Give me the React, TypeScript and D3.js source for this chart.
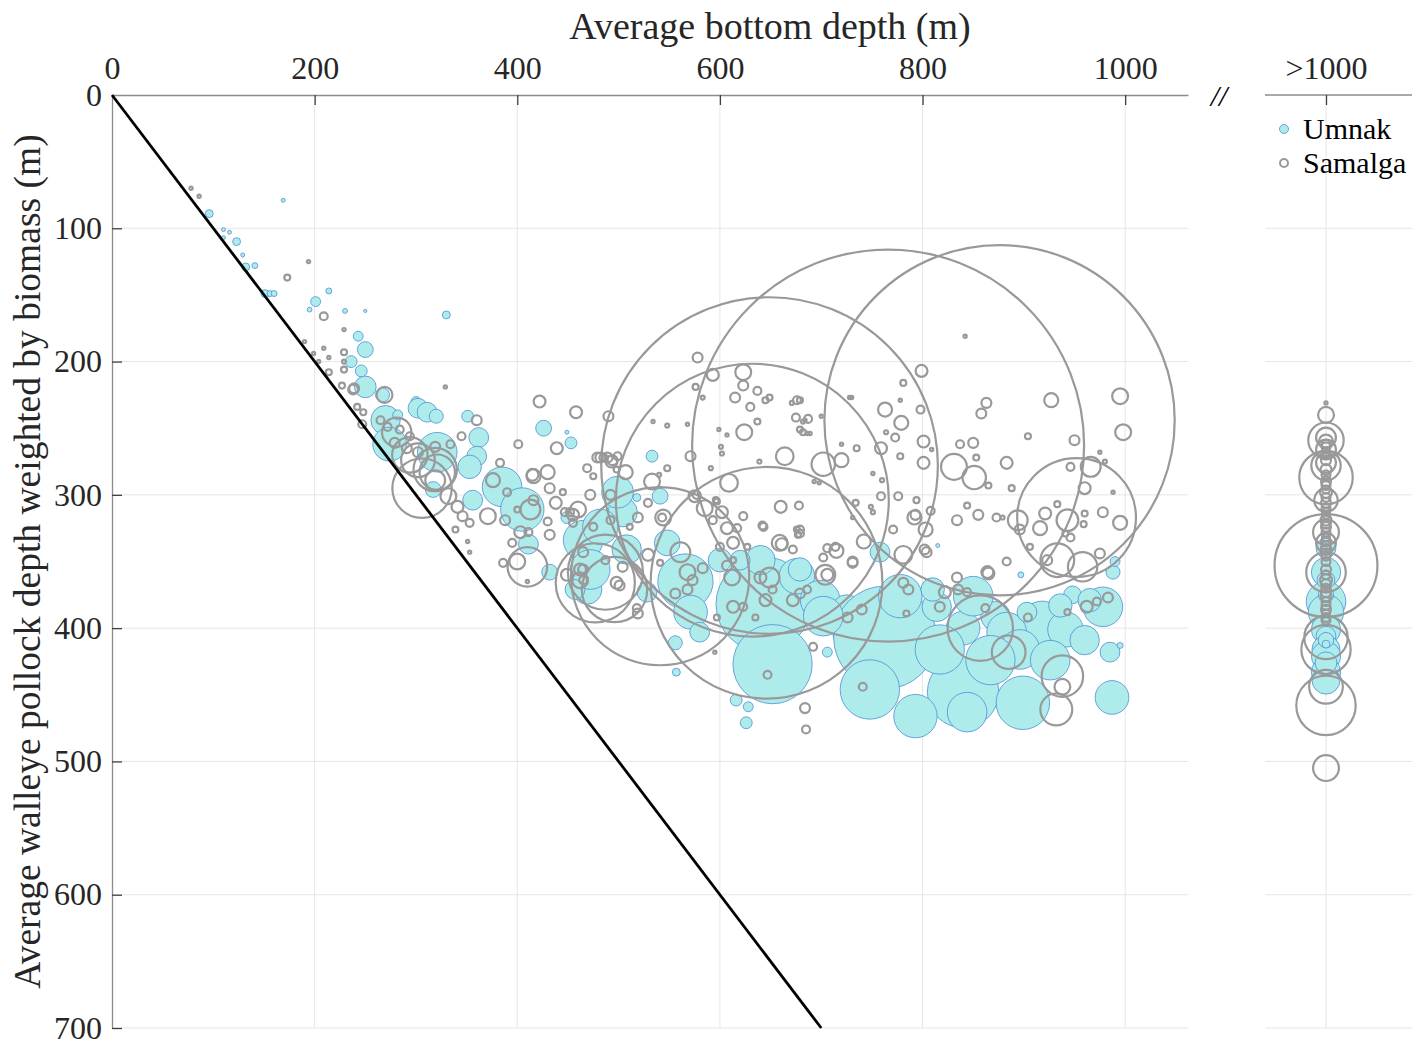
import React, { useEffect, useRef } from "react";
import * as d3 from "d3";

// [average bottom depth (m), pollock depth weighted by biomass (m), biomass index]
const umnak: [number, number, number][] = [
  [96, 89, 1.6], [110, 101, 0.4], [116, 103, 0.4], [123, 110, 1.6], [110, 107, 0.4], [129, 120, 0.4],
  [132, 129, 1.6], [141, 128, 0.9], [169, 79, 0.4], [151, 149, 1.6], [156, 149, 0.9], [160, 149, 0.9],
  [201, 155, 2.5], [195, 161, 0.6], [214, 147, 0.9], [230, 162, 0.6], [250, 162, 0.2], [330, 165, 1.6],
  [243, 181, 2.5], [250, 191, 6.4], [236, 200, 3.6], [246, 207, 3.6], [250, 219, 12], [267, 225, 5],
  [300, 230, 2.5], [270, 244, 22], [302, 235, 10], [311, 238, 10], [320, 241, 5], [282, 240, 2.5],
  [351, 241, 3.6], [426, 250, 6.4], [449, 253, 0.4], [453, 261, 3.6], [362, 257, 10], [274, 262, 29],
  [321, 268, 40], [360, 271, 10], [353, 279, 14], [385, 294, 40], [405, 311, 48], [356, 304, 10],
  [411, 337, 10], [317, 296, 6.4], [432, 358, 6.4], [449, 317, 3.6], [465, 334, 40], [469, 371, 22],
  [504, 313, 22], [533, 271, 3.6], [541, 301, 6.4], [518, 302, 1.6], [499, 298, 26], [556, 411, 5],
  [557, 433, 1.6], [616, 454, 3.6], [628, 459, 2.5], [626, 471, 3.6], [566, 365, 78], [571, 388, 29],
  [548, 336, 17], [643, 382, 230], [652, 427, 160], [676, 361, 32], [706, 418, 2.5], [699, 379, 40],
  [725, 386, 22], [731, 403, 40], [472, 356, 40], [457, 371, 10], [508, 341, 22], [482, 324, 32],
  [528, 373, 10], [580, 403, 10], [640, 349, 22], [620, 349, 10], [600, 349, 14], [679, 356, 14],
  [763, 407, 270], [840, 448, 130], [793, 466, 48], [899, 456, 73], [778, 376, 48], [918, 396, 48],
  [941, 401, 32], [978, 384, 40], [985, 418, 10], [987, 452, 29], [948, 375, 8], [988, 358, 5],
  [840, 400, 29], [872, 391, 22], [883, 403, 40], [896, 416, 40], [702, 391, 40], [844, 463, 40],
  [814, 384, 22], [810, 371, 14], [850, 376, 40], [903, 388, 10], [758, 343, 10], [815, 338, 0.4],
  [897, 360, 0.9], [990, 350, 2.5], [748, 446, 90], [926, 424, 40], [960, 409, 22], [995, 413, 0.9],
  [817, 416, 62], [867, 424, 62], [965, 379, 14], [936, 383, 14],
];

const samalga: [number, number, number][] = [
  [649, 278, 2890], [766, 263, 3920], [876, 244, 3130], [632, 304, 1900], [646, 366, 1370], [952, 317, 360],
  [541, 361, 810], [306, 295, 90], [487, 358, 144], [496, 371, 109], [477, 366, 160], [294, 270, 32],
  [319, 281, 48], [410, 354, 40], [857, 400, 109], [885, 418, 29], [938, 436, 44], [938, 444, 6.4],
  [932, 461, 26], [933, 349, 29], [958, 354, 22], [831, 279, 17], [851, 287, 14], [702, 277, 14],
  [664, 271, 8], [609, 291, 8], [624, 253, 6.4], [623, 208, 6.4], [966, 279, 10], [943, 319, 12],
  [894, 319, 10], [998, 253, 6.4], [995, 226, 6.4], [927, 229, 5], [799, 207, 3.6], [269, 225, 6.4],
  [281, 253, 22], [302, 274, 29], [321, 283, 32], [371, 316, 6.4], [413, 311, 10], [400, 350, 6.4],
  [533, 290, 6.4], [585, 310, 6.4], [561, 343, 10], [568, 358, 6.4], [649, 362, 10], [704, 360, 10],
  [659, 336, 6.4], [612, 362, 6.4], [720, 274, 5], [781, 345, 8],
  [173, 137, 0.9], [209, 166, 1.6], [229, 193, 0.9], [229, 200, 0.4], [229, 206, 0.9], [214, 208, 0.9],
  [227, 218, 0.9], [239, 220, 2.5], [238, 221, 2.5], [242, 234, 0.9], [248, 238, 0.9], [247, 247, 1.6],
  [265, 244, 1.6], [272, 249, 1.6], [284, 251, 1.6], [294, 256, 1.6], [279, 261, 2.5], [291, 265, 2.5],
  [302, 268, 2.5], [319, 264, 2.5], [334, 262, 1.6], [345, 256, 1.6], [360, 244, 2.5], [319, 289, 10],
  [332, 301, 6.4], [341, 309, 3.6], [346, 316, 2.5], [353, 321, 1.6], [339, 326, 0.9], [383, 276, 1.6],
  [376, 289, 5], [390, 298, 1.6], [388, 319, 2.5], [400, 311, 0.9], [416, 304, 2.5], [416, 286, 5],
  [430, 283, 5], [432, 295, 2.5], [445, 298, 0.9], [447, 313, 1.6], [460, 311, 6.4], [430, 320, 1.6],
  [432, 330, 2.5], [403, 328, 3.6], [411, 328, 1.6], [395, 336, 1.6], [386, 351, 1.6], [422, 230, 3.6],
  [458, 238, 3.6], [490, 241, 2.5], [401, 262, 1.6], [439, 265, 3.6], [415, 285, 3.6], [469, 280, 1.6],
  [475, 286, 0.9], [485, 272, 1.6], [494, 274, 2.5], [498, 281, 0.9], [472, 300, 2.5], [492, 300, 2.5],
  [452, 313, 1.6], [455, 321, 1.6], [465, 343, 2.5], [462, 356, 3.6], [498, 366, 3.6], [465, 364, 1.6],
  [329, 219, 0.2], [351, 335, 0.2], [353, 343, 0.2], [410, 365, 0.2], [78, 70, 0.2], [86, 76, 0.2],
  [190, 185, 0.2], [199, 194, 0.2], [214, 197, 0.2], [204, 200, 0.2], [229, 176, 0.2], [209, 190, 0.2],
  [194, 125, 0.1],
  [578, 197, 2.5], [593, 210, 3.6], [623, 218, 2.5], [637, 222, 1.6], [615, 227, 2.5], [630, 234, 1.6],
  [645, 229, 0.9], [649, 227, 0.9], [676, 229, 1.6], [671, 231, 0.4], [576, 219, 0.9], [583, 227, 0.4],
  [534, 245, 0.2], [548, 248, 0.4], [568, 247, 0.2], [599, 251, 0.2], [607, 255, 0.2], [637, 245, 0.9],
  [675, 242, 1.6], [682, 245, 0.4], [686, 254, 0.2], [689, 254, 0.2], [720, 262, 0.2], [601, 264, 0.4],
  [602, 269, 0.4], [571, 271, 2.5], [591, 280, 0.4], [639, 275, 0.4], [482, 272, 2.5], [493, 275, 3.6],
  [499, 271, 1.6], [507, 283, 5], [540, 285, 0.4], [548, 280, 0.9], [438, 306, 3.6], [529, 306, 1.6],
  [577, 300, 1.6], [597, 305, 0.9], [602, 313, 3.6], [593, 319, 1.6], [623, 316, 1.6], [643, 324, 1.6],
  [660, 309, 3.6], [678, 308, 1.6], [676, 326, 0.9], [677, 330, 0.9], [661, 337, 3.6], [706, 340, 1.6],
  [714, 339, 1.6], [544, 317, 6.4], [479, 272, 2.5], [489, 272, 2.5], [543, 317, 1.6], [596, 304, 0.9],
  [575, 301, 3.6],
  [842, 181, 0.2], [863, 231, 2.5], [858, 239, 2.5], [904, 256, 0.9], [950, 259, 2.5], [883, 276, 3.6],
  [960, 295, 3.6], [946, 279, 1.6], [975, 268, 0.2], [980, 275, 0.4], [988, 298, 0.2], [888, 295, 0.9],
  [794, 304, 0.9], [801, 276, 3.6], [801, 260, 3.6], [798, 236, 1.6], [779, 246, 5], [763, 236, 5],
  [781, 216, 0.9], [778, 229, 0.2], [773, 257, 1.6], [764, 253, 0.4], [778, 271, 0.9], [759, 265, 3.6],
  [735, 265, 0.9], [751, 284, 0.2], [760, 289, 0.4], [693, 290, 0.2], [698, 291, 0.2], [776, 301, 1.6],
  [759, 301, 1.6], [734, 306, 0.9], [749, 309, 0.4], [751, 313, 0.4], [793, 315, 2.5], [808, 312, 1.6],
  [687, 243, 1.6], [700, 241, 0.2], [730, 227, 0.2], [682, 253, 0.9], [792, 317, 5], [803, 326, 5],
  [771, 326, 1.6], [731, 317, 0.2], [679, 326, 1.6], [837, 262, 1.6], [850, 261, 2.5], [853, 272, 0.9],
  [865, 293, 0.9], [978, 313, 2.5], [995, 321, 5], [844, 308, 0.9], [855, 315, 2.5], [834, 319, 2.5],
  [873, 317, 1.6], [879, 317, 0.4], [896, 326, 2.5], [916, 325, 5], [921, 314, 3.6], [933, 307, 0.9],
  [960, 314, 0.9], [959, 322, 0.9], [941, 329, 0.9], [946, 332, 1.6], [906, 339, 0.9], [923, 349, 2.5],
  [975, 344, 2.5], [883, 350, 1.6], [864, 358, 3.6], [802, 341, 2.5], [742, 335, 5], [715, 342, 5],
  [702, 347, 1.6], [731, 351, 2.5], [679, 229, 0.9], [679, 251, 0.9], [684, 244, 0.2], [728, 227, 0.2],
  [809, 266, 0.2],
  [865, 359, 3.6], [904, 392, 1.6], [943, 388, 0.9], [962, 384, 3.6], [972, 380, 1.6], [983, 377, 2.5],
  [741, 444, 1.6], [781, 366, 2.5], [786, 371, 2.5], [822, 373, 3.6], [835, 371, 2.5], [844, 373, 1.6],
  [834, 362, 2.5], [817, 384, 2.5], [862, 385, 1.6], [784, 389, 0.9], [726, 392, 2.5], [740, 386, 2.5],
  [706, 360, 3.6], [804, 343, 2.5],
  [573, 364, 2.5], [583, 355, 2.5], [556, 374, 2.5], [568, 371, 2.5], [501, 368, 2.5], [465, 356, 2.5],
  [462, 364, 6.4], [487, 349, 1.6], [504, 354, 2.5], [519, 389, 2.5], [597, 392, 0.9], [613, 384, 3.6],
  [623, 384, 1.6], [635, 392, 0.9], [645, 379, 3.6], [652, 371, 1.6], [640, 362, 3.6], [672, 379, 3.6],
  [679, 374, 2.5], [686, 371, 1.6], [731, 350, 2.5], [672, 341, 1.6], [679, 329, 1.6], [642, 323, 1.6],
  [692, 414, 1.6], [647, 435, 1.6], [684, 460, 2.5], [685, 476, 1.6], [595, 418, 0.2], [607, 353, 2.5],
  [613, 349, 0.9], [627, 339, 0.9], [613, 336, 3.6], [607, 325, 3.6], [617, 325, 1.6], [600, 339, 1.6],
  [541, 351, 0.9], [529, 345, 3.6], [511, 324, 0.9], [519, 317, 2.5], [492, 319, 1.6], [475, 324, 1.6],
  [455, 315, 3.6], [449, 360, 3.6], [518, 385, 1.6],
];

// pollock depth and biomass for stations deeper than 1000 m
const umnakDeep: [number, number][] = [
  [358, 22], [380, 40], [388, 32], [401, 22], [406, 10], [416, 20], [421, 22], [433, 22],
  [439, 20], [409, 6], [395, 1.6], [412, 1.6], [375, 6], [340, 10], [426, 12], [364, 8],
];

const samalgaDeep: [number, number][] = [
  [231, 0.2], [240, 6.4], [257, 10], [259, 32], [260, 5], [266, 10], [276, 10], [278, 22],
  [287, 73], [304, 14], [328, 17], [336, 10], [353, 270], [358, 40], [407, 48], [416, 62],
  [444, 29], [458, 90], [505, 17],
  [262, 2], [264, 2], [268, 1.6], [270, 1.6], [274, 2.5], [281, 3], [285, 2], [290, 2.5], [293, 2],
  [296, 1.6], [298, 3.6], [302, 2], [306, 2.5], [310, 2], [313, 1.6], [315, 1.6], [319, 3], [322, 2],
  [324, 2.5], [328, 2], [332, 1.6], [335, 2.5], [338, 2], [341, 3], [344, 2.5], [346, 2], [350, 2],
  [356, 2.5], [360, 2], [364, 3.6], [367, 2.5], [370, 2], [373, 2.5], [376, 3], [380, 2], [383, 2],
  [386, 2.5], [389, 1.6], [392, 2], [394, 2],
];

const xTicks = [0, 200, 400, 600, 800, 1000];
const yTicks = [0, 100, 200, 300, 400, 500, 600, 700];
const deepLabel = ">1000";
const seriesNames = ["Umnak", "Samalga"];

const FONT = "'Liberation Serif', 'Times New Roman', serif";

export default function App() {
  const svgRef = useRef<SVGSVGElement>(null);
  const width = 1412;
  const height = 1045;

  useEffect(() => {
    document.body.style.margin = "0";
    const svg = d3.select(svgRef.current);
    svg.selectAll("*").remove();

    const x = d3.scaleLinear().domain([0, 1062]).range([112, 1188]);
    const xDeep = d3.scalePoint<string>().domain([deepLabel]).range([1265, 1387]).padding(0.5);
    const y = d3.scaleLinear().domain([0, 700]).range([95, 1028]);
    const r = d3.scaleSqrt().domain([0, 4000]).range([0, 198]);
    const rad = (b: number) => Math.max(r(b), 1.6);

    // grid
    const grid = svg.append("g").attr("stroke", "#e6e6e6").attr("stroke-width", 1);
    xTicks.slice(1).forEach((t) => {
      grid.append("line").attr("x1", x(t)).attr("x2", x(t)).attr("y1", y(0)).attr("y2", y(700));
    });
    grid.append("line").attr("x1", xDeep(deepLabel)!).attr("x2", xDeep(deepLabel)!)
      .attr("y1", y(0)).attr("y2", y(700));
    yTicks.slice(1).forEach((t) => {
      grid.append("line").attr("x1", x(0)).attr("x2", x(1062)).attr("y1", y(t)).attr("y2", y(t));
      grid.append("line").attr("x1", 1265).attr("x2", width).attr("y1", y(t)).attr("y2", y(t));
    });

    // axes
    const xAxis = svg.append("g").attr("transform", `translate(0,${y(0)})`)
      .call(d3.axisTop(x).tickValues(xTicks).tickFormat(d3.format("d"))
        .tickSizeInner(-10).tickSizeOuter(0).tickPadding(16));
    const xAxisDeep = svg.append("g").attr("transform", `translate(0,${y(0)})`)
      .call(d3.axisTop(xDeep).tickSizeInner(-10).tickSizeOuter(0).tickPadding(16));
    xAxisDeep.select(".domain").attr("d", `M1265,0H${width}`);
    const yAxis = svg.append("g").attr("transform", `translate(${x(0)},0)`)
      .call(d3.axisLeft(y).tickValues(yTicks).tickFormat(d3.format("d"))
        .tickSizeInner(-10).tickSizeOuter(0).tickPadding(10));
    yAxis.selectAll(".tick").filter((d) => d === 0).select("line").remove();
    xAxis.selectAll(".tick").filter((d) => d === 0).select("line").remove();

    [xAxis, xAxisDeep, yAxis].forEach((a) => {
      a.select(".domain").attr("stroke", "#8c8c8c").attr("stroke-width", 1.3);
      a.selectAll(".tick line").attr("stroke", "#404040").attr("stroke-width", 1.3);
      a.selectAll(".tick text").attr("font-family", FONT).attr("font-size", 32).attr("fill", "#262626");
    });

    svg.append("text").attr("x", 1219).attr("y", y(0) + 11).attr("text-anchor", "middle")
      .attr("font-family", FONT).attr("font-size", 30).attr("font-style", "italic")
      .attr("fill", "#000").text("//");

    // Umnak bubbles
    const um = svg.append("g").attr("fill", "#aeeceb").attr("stroke", "#4a8fd4").attr("stroke-width", 0.8);
    um.selectAll("circle.m").data(umnak).join("circle")
      .attr("cx", (d) => x(d[0])).attr("cy", (d) => y(d[1])).attr("r", (d) => rad(d[2]));
    um.append("g").selectAll("circle").data(umnakDeep).join("circle")
      .attr("cx", xDeep(deepLabel)!).attr("cy", (d) => y(d[0])).attr("r", (d) => rad(d[1]));

    // Samalga bubbles
    const sa = svg.append("g").attr("fill", "none").attr("stroke", "#999999").attr("stroke-width", 2.2);
    sa.selectAll("circle.m").data(samalga).join("circle")
      .attr("cx", (d) => x(d[0])).attr("cy", (d) => y(d[1])).attr("r", (d) => rad(d[2]));
    sa.append("g").selectAll("circle").data(samalgaDeep).join("circle")
      .attr("cx", xDeep(deepLabel)!).attr("cy", (d) => y(d[0])).attr("r", (d) => rad(d[1]));

    // 1:1 line
    svg.append("line").attr("x1", x(0)).attr("y1", y(0)).attr("x2", x(700)).attr("y2", y(700))
      .attr("stroke", "#000").attr("stroke-width", 2.8);

    // titles
    svg.append("text").attr("x", 770).attr("y", 39).attr("text-anchor", "middle")
      .attr("font-family", FONT).attr("font-size", 38).attr("fill", "#262626")
      .text("Average bottom depth (m)");
    svg.append("text").attr("transform", `translate(40,${(y(0) + y(700)) / 2}) rotate(-90)`)
      .attr("text-anchor", "middle").attr("font-family", FONT).attr("font-size", 37.5).attr("fill", "#262626")
      .text("Average walleye pollock depth weighted by biomass (m)");

    // legend
    const lg = svg.append("g").attr("font-family", FONT).attr("font-size", 30).attr("fill", "#000");
    seriesNames.forEach((name, i) => {
      const cy = 129 + i * 34;
      lg.append("circle").attr("cx", 1284).attr("cy", cy).attr("r", i === 0 ? 4.5 : 4)
        .attr("fill", i === 0 ? "#aeeceb" : "none")
        .attr("stroke", i === 0 ? "#4a8fd4" : "#999999").attr("stroke-width", i === 0 ? 0.8 : 2);
      lg.append("text").attr("x", 1303).attr("y", cy + 10).text(name);
    });
  }, []);

  return <svg ref={svgRef} width={width} height={height} style={{ display: "block" }} />;
}
